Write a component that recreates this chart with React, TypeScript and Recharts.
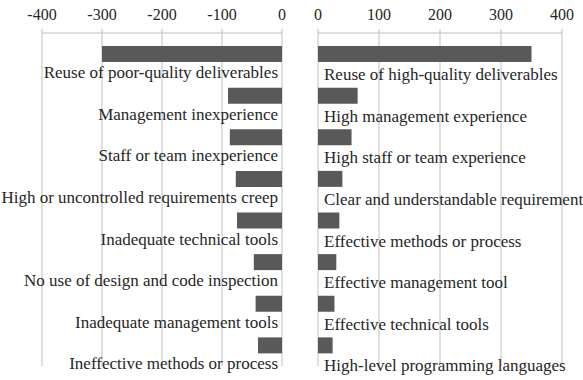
import { BarChart, Bar, XAxis, YAxis, CartesianGrid, LabelList } from 'recharts';

const negNames = [
  'Reuse of poor-quality deliverables',
  'Management inexperience',
  'Staff or team inexperience',
  'High or uncontrolled requirements creep',
  'Inadequate technical tools',
  'No use of design and code inspection',
  'Inadequate management tools',
  'Ineffective methods or process',
];
const negValues = [-300, -90, -87, -77, -75, -47, -44, -40];

const posNames = [
  'Reuse of high-quality deliverables',
  'High management experience',
  'High staff or team experience',
  'Clear and understandable requirement',
  'Effective methods or process',
  'Effective management tool',
  'Effective technical tools',
  'High-level programming languages',
];
const posValues = [350, 65, 55, 40, 35, 30, 27, 24];

const negTicks = [-400, -300, -200, -100, 0];
const posTicks = [0, 100, 200, 300, 400];

const font = 'Liberation Serif';
const textColor = '#262626';
const gridColor = '#bfbfbf';
const barColor = '#595959';
const labelSize = 17;
const tickSize = 16;

const negData = negNames.map((name, i) => ({ name, value: negValues[i] }));
const posData = posNames.map((name, i) => ({ name, value: posValues[i] }));

// category text sits under each bar, right-aligned to the zero line
function LeftLabel(props: any) {
  const { x, y, width, height, value } = props;
  const right = Math.max(x, x + width);
  return (
    <text x={right - 4} y={y + height + 16} textAnchor="end" fill={textColor} fontFamily={font} fontSize={labelSize}>
      {value}
    </text>
  );
}

function RightLabel(props: any) {
  const { x, y, width, height, value } = props;
  const left = Math.min(x, x + width);
  return (
    <text x={left + 6} y={y + height + 18} textAnchor="start" fill={textColor} fontFamily={font} fontSize={labelSize}>
      {value}
    </text>
  );
}

const tickStyle = { fontSize: tickSize, fill: textColor, fontFamily: font };

export default function App() {
  return (
    <div style={{ position: 'absolute', left: 0, top: 0, width: 583, height: 380, background: '#fff', overflow: 'hidden' }}>
      <div style={{ position: 'absolute', left: 0, top: 0 }}>
        <BarChart
          width={300}
          height={380}
          data={negData}
          layout="vertical"
          margin={{ top: 3, right: 18, bottom: 14, left: 42 }}
          barSize={16}
        >
          <CartesianGrid horizontal={false} stroke={gridColor} />
          <XAxis
            type="number"
            orientation="top"
            domain={[-400, 0]}
            ticks={negTicks}
            height={30}
            stroke={gridColor}
            tickSize={4}
            tickMargin={9}
            tick={tickStyle}
            allowDataOverflow
          />
          <YAxis type="category" dataKey="name" hide />
          <Bar dataKey="value" fill={barColor} isAnimationActive={false}>
            <LabelList dataKey="name" content={<LeftLabel />} />
          </Bar>
        </BarChart>
      </div>
      <div style={{ position: 'absolute', left: 300, top: 0 }}>
        <BarChart
          width={283}
          height={380}
          data={posData}
          layout="vertical"
          margin={{ top: 3, right: 21, bottom: 14, left: 18 }}
          barSize={16}
        >
          <CartesianGrid horizontal={false} stroke={gridColor} />
          <XAxis
            type="number"
            orientation="top"
            domain={[0, 400]}
            ticks={posTicks}
            height={30}
            stroke={gridColor}
            tickSize={4}
            tickMargin={9}
            tick={tickStyle}
            allowDataOverflow
          />
          <YAxis type="category" dataKey="name" hide />
          <Bar dataKey="value" fill={barColor} isAnimationActive={false}>
            <LabelList dataKey="name" content={<RightLabel />} />
          </Bar>
        </BarChart>
      </div>
    </div>
  );
}
